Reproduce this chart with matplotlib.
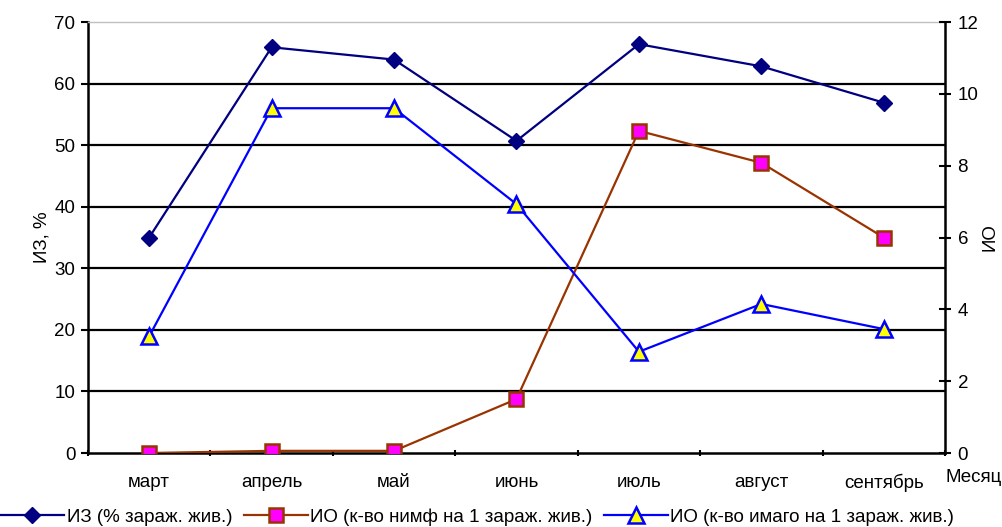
import matplotlib
matplotlib.use("Agg")
import numpy as np
import matplotlib.pyplot as plt
from matplotlib.ticker import FixedLocator

plt.rcParams["font.family"] = ["Liberation Sans", "DejaVu Sans"]

months = ["март", "апрель", "май", "июнь", "июль", "август", "сентябрь"]
iz = [35.0, 65.9, 63.9, 50.7, 66.4, 62.8, 56.9]
io_nymph = [0.0, 0.06, 0.06, 1.5, 8.97, 8.08, 6.0]
io_imago = [3.25, 9.6, 9.6, 6.93, 2.82, 4.15, 3.45]

FS = 13.5

fig = plt.figure(figsize=(10.03, 5.27), dpi=100)
ax = fig.add_axes([0.0877, 0.1404, 0.8545, 0.8178])
ax2 = ax.twinx()

x = np.arange(len(months))

l1, = ax.plot(x, iz, color="#000080", lw=1.6, marker="D", markersize=8,
              markerfacecolor="#000080", markeredgecolor="#000080",
              label="ИЗ (% зараж. жив.)", zorder=5)
l2, = ax2.plot(x, io_nymph, color="#993300", lw=1.6, marker="s", markersize=10,
               markerfacecolor="#FF00FF", markeredgecolor="#993300", markeredgewidth=1.8,
               label="ИО (к-во нимф на 1 зараж. жив.)", zorder=5)
l3, = ax2.plot(x, io_imago, color="#0000FF", lw=1.6, marker="^", markersize=11,
               markerfacecolor="#FFFF00", markeredgecolor="#0000FF", markeredgewidth=1.8,
               label="ИО (к-во имаго на 1 зараж. жив.)", zorder=5)

ax.set_xlim(-0.5, len(months) - 0.5)
ax.set_ylim(0, 70)
ax2.set_ylim(0, 12)

ax.set_yticks(np.arange(0, 71, 10))
ax2.set_yticks(np.arange(0, 13, 2))

# category labels in the middle, ticks at boundaries
ax.xaxis.set_major_locator(FixedLocator(x))
ax.set_xticklabels(months)
ax.xaxis.set_minor_locator(FixedLocator(np.arange(-0.5, len(months), 1.0)))
ax.tick_params(axis="x", which="major", length=0, pad=15, labelsize=FS)
ax.tick_params(axis="x", which="minor", length=5, width=1.5, direction="inout")

ax.tick_params(axis="y", length=5, width=1.5, direction="out", labelsize=FS, pad=4)
ax2.tick_params(axis="y", length=8, width=1.5, direction="inout", labelsize=FS, pad=5)

for y in range(10, 70, 10):
    ax.axhline(y, color="black", lw=1.6, zorder=1)

for s in ["left", "bottom"]:
    ax.spines[s].set_linewidth(1.8)
ax2.spines["right"].set_linewidth(1.8)
ax.spines["top"].set_color("#c0c0c0")
ax.spines["top"].set_linewidth(1)
ax2.spines["top"].set_visible(False)
ax.spines["right"].set_visible(False)
ax2.spines["left"].set_visible(False)
ax2.spines["bottom"].set_visible(False)

ax.set_ylabel("ИЗ, %", fontsize=FS, labelpad=3)
ax2.set_ylabel("ИО", fontsize=FS, labelpad=2)
fig.text(0.9705, 0.093, "Месяц", fontsize=FS, ha="center", va="center")

fig.legend(handles=[l1, l2, l3], loc="lower center", bbox_to_anchor=(0.476, -0.03),
           ncol=3, frameon=False, fontsize=FS, handlelength=3.4, handletextpad=0.15,
           columnspacing=0.6)

fig.savefig("out.png", dpi=100)
